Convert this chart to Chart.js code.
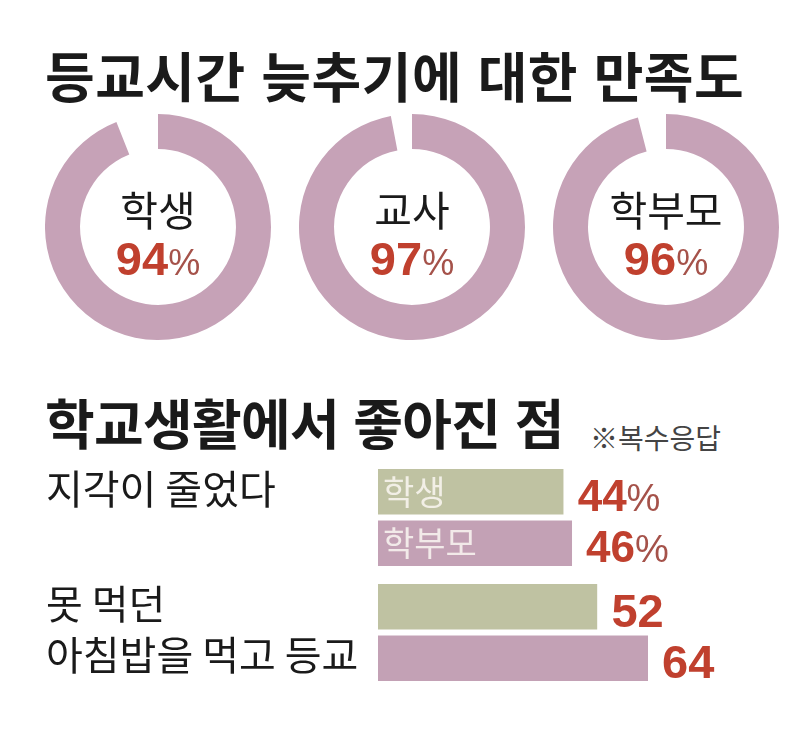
<!DOCTYPE html>
<html lang="ko">
<head>
<meta charset="utf-8">
<script src="https://cdn.jsdelivr.net/npm/chart.js@4.4.1/dist/chart.umd.min.js"></script>
<style>
  body { margin: 0; background: #fff; }
  #page { position: relative; width: 800px; height: 747px; background: #fff; overflow: hidden;
          font-family: "Noto Sans CJK KR", "Noto Sans", sans-serif; color: #1a1a1a; }
  .txt { position: absolute; line-height: 1; white-space: nowrap; }
  .title { font-weight: 700; font-size: 54px; }
  canvas { position: absolute; }
</style>
</head>
<body>
<div id="page">
  <div class="txt title" style="left:45px; top:48px; letter-spacing:0.5px;">등교시간 늦추기에 대한 만족도</div>
  <div class="txt title" style="left:45px; top:395px; letter-spacing:-0.7px;">학교생활에서 좋아진 점</div>
  <div class="txt" style="left:590px; top:423px; font-size:28px; color:#444;">※복수응답</div>
</div>
<script>
// donut data
const donutLabels = ['학생', '교사', '학부모'];
const donutValues = [94, 97, 96];

// bar data
const barCategories = [['지각이 줄었다'], ['못 먹던', '아침밥을 먹고 등교']];
const barSeries = ['학생', '학부모'];
const studentValues = [44, 52];
const parentValues = [46, 64];
const valueSuffix = ['%', ''];

const pink = '#c6a2b7';
const barPink = '#c3a1b5';
const olive = '#bfc2a2';
const red = '#c0402e';
const pctColor = '#a5524a';

const page = document.getElementById('page');
const donutCenters = [158, 412, 666];
const donutR = 113;

const centerText = {
  id: 'centerText',
  afterDraw(chart) {
    const { ctx } = chart;
    const arc = chart.getDatasetMeta(0).data[0];
    const cx = arc.x, cy = arc.y;
    const o = chart.options.plugins.centerText;
    ctx.save();
    ctx.fillStyle = '#1a1a1a';
    ctx.font = '41px "Noto Sans CJK KR"';
    ctx.textAlign = 'center';
    ctx.textBaseline = 'middle';
    ctx.fillText(o.label, cx, cy - 17);

    const num = String(o.value);
    ctx.font = 'bold 47px "Liberation Sans"';
    const wNum = ctx.measureText(num).width;
    ctx.font = '36px "Liberation Sans"';
    const wPct = ctx.measureText('%').width;
    const x = cx - (wNum + wPct) / 2;
    ctx.textAlign = 'left';
    ctx.textBaseline = 'alphabetic';
    ctx.font = 'bold 47px "Liberation Sans"';
    ctx.fillStyle = red;
    ctx.fillText(num, x, cy + 48);
    ctx.font = '36px "Liberation Sans"';
    ctx.fillStyle = pctColor;
    ctx.fillText('%', x + wNum, cy + 48);
    ctx.restore();
  }
};

donutValues.forEach((v, i) => {
  const c = document.createElement('canvas');
  c.width = donutR * 2;
  c.height = donutR * 2;
  c.style.left = (donutCenters[i] - donutR) + 'px';
  c.style.top = (227 - donutR) + 'px';
  page.appendChild(c);
  new Chart(c, {
    type: 'doughnut',
    data: {
      labels: [donutLabels[i], ''],
      datasets: [{
        data: [v, 100 - v],
        backgroundColor: [pink, 'rgba(0,0,0,0)'],
        borderWidth: 0
      }]
    },
    options: {
      responsive: false,
      animation: false,
      cutout: '69%',
      plugins: {
        legend: { display: false },
        tooltip: { enabled: false },
        centerText: { label: donutLabels[i], value: v }
      }
    },
    plugins: [centerText]
  });
});

// bar chart
const barLabels = {
  id: 'barLabels',
  afterDatasetsDraw(chart) {
    const { ctx } = chart;
    const m0 = chart.getDatasetMeta(0).data;
    const m1 = chart.getDatasetMeta(1).data;
    // colored part centers (white border eats 3px on the inner edge)
    const centers = [m0.map(b => b.y - 1.5), m1.map(b => b.y + 1.5)];
    ctx.save();

    // series name inside bars of first category
    ctx.font = '34px "Noto Sans CJK KR"';
    ctx.fillStyle = 'rgba(250,247,242,0.85)';
    ctx.textAlign = 'left';
    ctx.textBaseline = 'middle';
    [m0, m1].forEach((m, d) => {
      ctx.fillText(barSeries[d], m[0].base + 5, centers[d][0]);
    });

    // value labels
    [m0, m1].forEach((m, d) => {
      const vals = chart.data.datasets[d].data;
      m.forEach((bar, k) => {
        const size = k === 0 ? 44 : 47;
        const y = centers[d][k] + 3 + size * 0.358;
        const num = String(vals[k]);
        ctx.textBaseline = 'alphabetic';
        ctx.font = 'bold ' + size + 'px "Liberation Sans"';
        ctx.fillStyle = red;
        const x = bar.x + 14;
        ctx.fillText(num, x, y);
        if (valueSuffix[k]) {
          const w = ctx.measureText(num).width;
          ctx.font = '38px "Liberation Sans"';
          ctx.fillStyle = pctColor;
          ctx.fillText(valueSuffix[k], x + w, y);
        }
      });
    });

    // category labels on the left
    ctx.font = '40px "Noto Sans CJK KR"';
    ctx.fillStyle = '#1a1a1a';
    ctx.textBaseline = 'middle';
    barCategories.forEach((lines, k) => {
      lines.forEach((line, j) => {
        ctx.fillText(line, 46, centers[j][k] - 3);
      });
    });
    ctx.restore();
  }
};

const bc = document.createElement('canvas');
bc.width = 800;
bc.height = 230;
bc.style.left = '0px';
bc.style.top = '460px';
page.appendChild(bc);

new Chart(bc, {
  type: 'bar',
  data: {
    labels: barCategories,
    datasets: [
      { label: barSeries[0], data: studentValues, backgroundColor: olive,
        borderColor: '#fff', borderWidth: { bottom: 3 }, borderSkipped: false },
      { label: barSeries[1], data: parentValues, backgroundColor: barPink,
        borderColor: '#fff', borderWidth: { top: 3 }, borderSkipped: false }
    ]
  },
  options: {
    indexAxis: 'y',
    responsive: false,
    animation: false,
    layout: { padding: { left: 378, right: 0, top: 0, bottom: 0 } },
    datasets: { bar: { categoryPercentage: 0.8435, barPercentage: 1 } },
    scales: {
      x: { display: false, min: 0, max: 100 },
      y: { display: false }
    },
    plugins: {
      legend: { display: false },
      tooltip: { enabled: false }
    }
  },
  plugins: [barLabels]
});
</script>
</body>
</html>
